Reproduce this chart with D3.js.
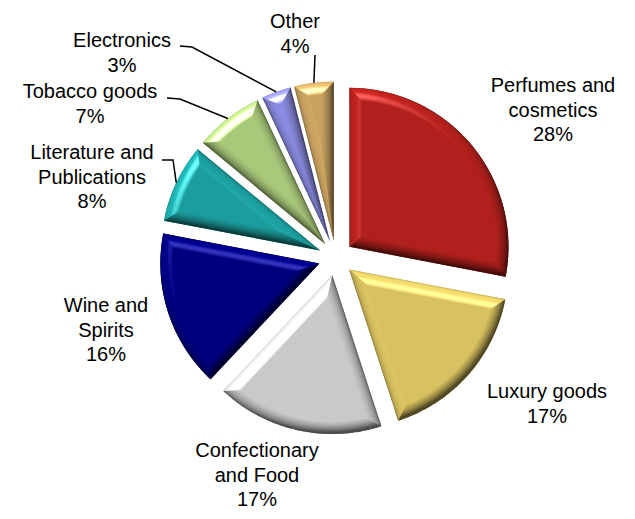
<!DOCTYPE html>
<html>
<head>
<meta charset="utf-8">
<script src="https://cdn.jsdelivr.net/npm/d3@7"></script>
<style>
  html, body { margin: 0; padding: 0; background: #fff; }
  svg { display: block; font-family: "Liberation Sans", Arial, sans-serif; }
</style>
</head>
<body>
<svg id="chart" width="635" height="519"></svg>
<script>
// Share of sales by product category (percent)
const categories = [
  "Perfumes and\ncosmetics",
  "Luxury goods",
  "Confectionary\nand Food",
  "Wine and\nSpirits",
  "Literature and\nPublications",
  "Tobacco goods",
  "Electronics",
  "Other"
];
const shares = [28, 17, 17, 16, 8, 7, 3, 4];
const sliceColors = ["#B0201C", "#D7C160", "#C9C9C9", "#00007E", "#1B9D9D", "#A9C97A", "#8A8AE0", "#C8A160"];

// Layout
const cx = 336, cy = 258, R = 159, explode = 17.5, bevel = 12.5;
const lineH = 24.5;
const labelAnchors = [[553, 92], [547, 398], [257, 457], [106, 312], [92, 159], [90, 98], [122, 47], [295, 28]];
const leaderStarts = { 4: [[162, 160], [173, 160]], 5: [[167, 98], [180, 99]], 6: [[180, 46], [192, 47]], 7: [[315, 55]] };

const svg = d3.select("#chart");
const defs = svg.append("defs");

const rows = categories.map((name, i) => ({ name, value: shares[i], color: sliceColors[i] }));
const pie = d3.pie().sort(null).value(d => d.value).startAngle(0).endAngle(2 * Math.PI);
const arcs = pie(rows);
const total = d3.sum(shares);
const pct = d3.format(".0%");

const dir = a => [Math.sin(a), -Math.cos(a)];
const scale = (v, k) => [v[0] * k, v[1] * k];
const norm = v => { const l = Math.hypot(...v); return v.map(x => x / l); };
const dot = (a, b) => a[0] * b[0] + a[1] * b[1] + a[2] * b[2];

// Lighting for the rounded bevel: light from the upper left, viewer straight on
const Lgt = norm([-0.35, -0.6, 0.72]);
const Hv = norm([Lgt[0], Lgt[1], Lgt[2] + 1]);
const specPow = 20, specK = 0.65, amb = 0.3, kd = 0.7;
const flatDiff = amb + kd * Lgt[2];
const flatSpec = specK * Math.pow(Hv[2], specPow);

// colour of the bevel surface at fraction s (0 = outer rim, 1 = inner face) for outward normal n
function litColor(base, n, s) {
  const beta = 0.88 * Math.asin(Math.max(0, Math.min(1, 1 - s)));
  const N = [n[0] * Math.sin(beta), n[1] * Math.sin(beta), Math.cos(beta)];
  const f = (amb + kd * Math.max(0, dot(N, Lgt))) / flatDiff;
  const sp = specK * Math.pow(Math.max(0, dot(N, Hv)), specPow) - flatSpec;
  const c = d3.rgb(base);
  const ch = v => Math.max(0, Math.min(255, v * f + 255 * Math.max(0, sp)));
  return d3.rgb(ch(c.r), ch(c.g), ch(c.b)).formatHex();
}

const stopsS = d3.range(0, 1.0001, 0.1);
let gid = 0;

function linearBevel(base, n) {
  const id = "bv" + (gid++);
  const g = defs.append("linearGradient").attr("id", id)
    .attr("gradientUnits", "userSpaceOnUse")
    .attr("x1", 0).attr("y1", 0)
    .attr("x2", -n[0] * bevel).attr("y2", -n[1] * bevel);
  stopsS.forEach(s => g.append("stop").attr("offset", s).attr("stop-color", litColor(base, n, s)));
  return "url(#" + id + ")";
}

function radialBevel(base, n) {
  const id = "bv" + (gid++);
  const g = defs.append("radialGradient").attr("id", id)
    .attr("gradientUnits", "userSpaceOnUse")
    .attr("cx", 0).attr("cy", 0).attr("r", R).attr("fx", 0).attr("fy", 0);
  stopsS.slice().reverse().forEach(s =>
    g.append("stop").attr("offset", (R - bevel * s) / R).attr("stop-color", litColor(base, n, s)));
  return "url(#" + id + ")";
}

const faceArc = d3.arc().innerRadius(0).outerRadius(R);
const bandArc = d3.arc().innerRadius(R - bevel).outerRadius(R);
const segStep = 1.5 * Math.PI / 180;

const apexes = [];

arcs.forEach((a, i) => {
  const base = a.data.color;
  const a0 = a.startAngle, a1 = a.endAngle;
  const mid = (a0 + a1) / 2;
  const off = scale(dir(mid), explode);
  const ax = cx + off[0], ay = cy + off[1];
  apexes.push({ x: ax, y: ay, mid });

  const g = svg.append("g").attr("transform", `translate(${ax},${ay})`);

  // flat top face
  g.append("path").attr("d", faceArc(a)).attr("fill", base);

  // curved rim, shaded in thin angular steps
  const span = a1 - a0;
  const nSeg = Math.ceil(span / segStep);
  for (let k = 0; k < nSeg; k++) {
    const s0 = a0 + span * k / nSeg;
    const s1 = Math.min(a1, a0 + span * (k + 1) / nSeg + 0.004);
    const n = dir((s0 + s1) / 2);
    g.append("path")
      .attr("d", bandArc({ startAngle: s0, endAngle: s1 }))
      .attr("fill", radialBevel(base, n));
  }

  // straight edges
  const h = span / 2;
  const P = scale(dir(mid), bevel / Math.sin(h));
  const phi = Math.asin(bevel / (R - bevel));
  const O0 = scale(dir(a0), R), O1 = scale(dir(a1), R);
  const I0 = scale(dir(a0 + phi), R - bevel), I1 = scale(dir(a1 - phi), R - bevel);
  const n0 = [-Math.cos(a0), -Math.sin(a0)];
  const n1 = [Math.cos(a1), Math.sin(a1)];
  const poly = pts => "M" + pts.map(p => p[0].toFixed(2) + "," + p[1].toFixed(2)).join("L") + "Z";
  g.append("path").attr("d", poly([[0, 0], O0, I0, P])).attr("fill", linearBevel(base, n0));
  g.append("path").attr("d", poly([[0, 0], P, I1, O1])).attr("fill", linearBevel(base, n1));
});

// leader lines for the small slices
const leader = d3.line();
Object.keys(leaderStarts).forEach(key => {
  const i = +key;
  const ap = apexes[i];
  const end = [ap.x + Math.sin(ap.mid) * R, ap.y - Math.cos(ap.mid) * R];
  svg.append("path")
    .attr("d", leader(leaderStarts[i].concat([end])))
    .attr("fill", "none").attr("stroke", "#000").attr("stroke-width", 1.5);
});

// category labels with percentages
arcs.forEach((a, i) => {
  const lines = a.data.name.split("\n").concat([pct(a.data.value / total)]);
  const [tx, ty] = labelAnchors[i];
  const t = svg.append("text")
    .attr("text-anchor", "middle")
    .attr("font-size", 20)
    .attr("fill", "#000");
  lines.forEach((ln, j) => {
    t.append("tspan").attr("x", tx).attr("y", ty + j * lineH).text(ln);
  });
});
</script>
</body>
</html>
